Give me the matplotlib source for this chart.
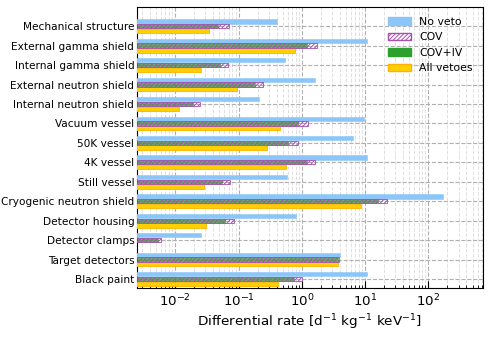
import matplotlib
matplotlib.use("Agg")
import matplotlib.pyplot as plt
import numpy as np
from matplotlib.patches import Patch

categories = ["Mechanical structure", "External gamma shield", "Internal gamma shield",
              "External neutron shield", "Internal neutron shield", "Vacuum vessel",
              "50K vessel", "4K vessel", "Still vessel", "Cryogenic neutron shield",
              "Detector housing", "Detector clamps", "Target detectors", "Black paint"]

no_veto = [0.41, 10.9, 0.55, 1.62, 0.21, 9.6, 6.5, 10.9, 0.59, 173, 0.82, 0.026, 4.0, 10.6]
cov = [0.072, 1.72, 0.068, 0.24, 0.025, 1.24, 0.86, 1.6, 0.074, 22, 0.084, 0.0059, 3.9, 1.0]
cov_iv = [0.048, 1.2, 0.051, 0.18, 0.019, 0.88, 0.61, 1.2, 0.054, 16, 0.061, 0.0054, 3.8, 0.74]
all_vetoes = [0.034, 0.78, 0.026, 0.093, 0.0114, 0.46, 0.28, 0.56, 0.029, 8.6, 0.031, 0.001, 3.7, 0.42]

c_blue = "#8cc6f8"
c_purple = "#a850b0"
c_green = "#3a9a3a"
c_gold = "#ffd000"
c_gold_edge = "#ffb300"

plt.rcParams["hatch.linewidth"] = 0.7
fig = plt.figure(figsize=(4.88, 3.39), dpi=100)
ax = fig.add_axes([0.281, 0.15, 0.708, 0.829])

y = np.arange(len(categories))
h = 0.22
off = 0.245

ax.barh(y - off, no_veto, height=h, color=c_blue, edgecolor=c_blue, linewidth=0.4, zorder=3)
ax.barh(y, cov_iv, height=h, color=c_green, edgecolor=c_green, linewidth=0.4, zorder=3, alpha=0.8)
ax.barh(y, cov, height=h, facecolor="none", edgecolor=c_purple, hatch="////////", linewidth=0.6, zorder=4)
ax.barh(y + off, all_vetoes, height=h, color=c_gold, edgecolor=c_gold_edge, linewidth=0.6, zorder=3)

ax.set_xscale("log")
ax.set_xlim(2.5e-3, 720)
ax.set_ylim(13.47, -0.98)
ax.set_yticks(y)
ax.set_yticklabels(categories, fontsize=7.6)
ax.tick_params(axis="y", length=0, pad=2)
ax.tick_params(axis="x", which="both", direction="in", labelsize=9.6)
ax.tick_params(axis="x", which="major", length=5)
ax.tick_params(axis="x", which="minor", length=2.5)
ax.set_xlabel(r"Differential rate [d$^{-1}$ kg$^{-1}$ keV$^{-1}$]", fontsize=9.7, labelpad=2)

ax.grid(which="major", axis="both", ls="--", color="#b0b0b0", lw=0.8, zorder=0)
ax.grid(which="minor", axis="x", ls="--", color="#e0e0e0", lw=0.7, zorder=0)
ax.set_axisbelow(True)

handles = [
    Patch(facecolor=c_blue, edgecolor=c_blue, label="No veto"),
    Patch(facecolor="white", edgecolor=c_purple, hatch="////////", label="COV"),
    Patch(facecolor="#2ca02c", edgecolor="#2ca02c", label="COV+IV"),
    Patch(facecolor=c_gold, edgecolor=c_gold_edge, label="All vetoes"),
]
ax.legend(handles=handles, loc="upper right", frameon=False, fontsize=7.8,
          handlelength=2.1, handleheight=0.65, borderaxespad=0.5, labelspacing=0.5)

fig.savefig("out.png", dpi=100)
